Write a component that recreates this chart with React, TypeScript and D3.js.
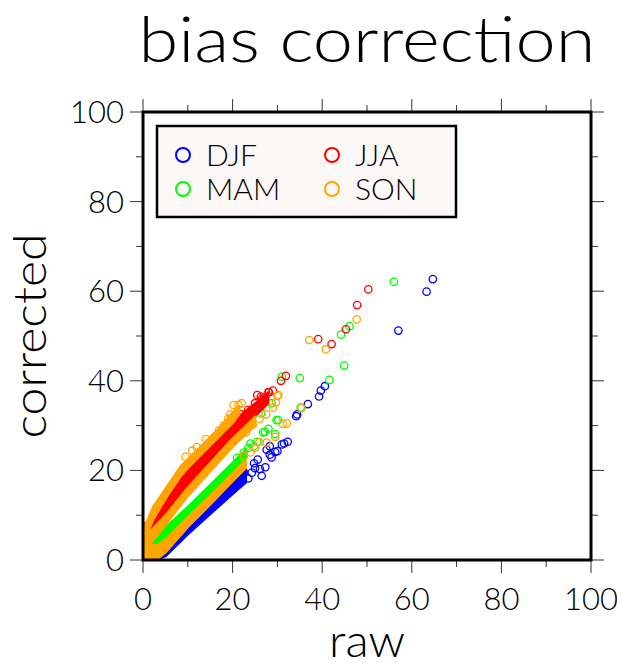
import React from 'react';
import * as d3 from 'd3';

// dense part of each season's cloud: [raw, corrected low, corrected high]
const djfBand: [number, number, number][] = [
  [3, 0, 0.5], [5, 0.8, 2], [10, 5.7, 7.6], [15, 10.2, 12.5], [20, 14.7, 17.7], [23, 17.3, 20.6],
];
const mamBand: [number, number, number][] = [
  [1.5, 2.3, 4], [3, 3.2, 5.3], [5, 4.5, 7.3], [10, 9.3, 11.9], [15, 14.2, 16.8], [20, 19, 21.8], [23, 22, 24.8],
];
const jjaBand: [number, number, number][] = [
  [0, 4, 7.6], [2.3, 6.5, 10], [5.3, 10, 14.5], [8.3, 14, 19], [10.5, 16.5, 21.5], [14, 20.5, 25],
  [17, 24, 28], [20, 27.5, 31], [25, 32, 35], [28, 35, 37.5],
];
const sonBandA: [number, number, number][] = [
  [0, 3, 6.7], [2.3, 9, 12], [5.3, 14, 16.4], [8.3, 18.5, 20.8], [10.5, 21, 23.1], [14, 24.5, 26.5],
  [17, 27.5, 29.5], [20, 30.5, 33], [21.5, 32.5, 34.5],
];
const sonBandB: [number, number, number][] = [
  [0, 1.5, 4.5], [3, 5.3, 8], [5, 7.8, 10], [10, 14.2, 16.2], [15, 19.7, 21.7], [20, 25.2, 27.2], [25, 30, 32],
];
const sonBandC: [number, number, number][] = [
  [0, 0, 3.5], [3, 0, 3.3], [5, 1.6, 4.6], [10, 7.3, 9.6], [15, 12.3, 14.4], [20, 17.5, 19.4], [23, 20.5, 22.4],
];

// individual points [raw, corrected]
const djfPts: [number, number][] = [
  [64.7, 62.7], [63.3, 59.9], [57.0, 51.2], [40.6, 38.8], [39.7, 37.8], [39.3, 36.5], [36.8, 34.8],
  [34.4, 32.5], [34.2, 32.1], [31.5, 26], [30, 24.3], [28.7, 22.9], [27.6, 24.6], [28.3, 25.4], [26.1, 20.3],
  [23.5, 18.2], [24.3, 19.5], [25, 20.5], [26.5, 18.8], [27.3, 20.7], [28.3, 23.5], [29.5, 24.1], [31, 25.8],
  [32.3, 26.4], [24.8, 21.6], [22.5, 19.6], [25.6, 22.4],
];
const mamPts: [number, number][] = [
  [56, 62.1], [46.1, 52.2], [44.2, 50.3], [44.9, 43.4], [41.6, 40.2], [35.2, 34.0], [30.2, 31.25],
  [27.2, 28.6], [29.5, 28.1], [26.4, 32.7], [35, 40.6], [31, 40.9], [28.7, 35], [29.8, 31.2],
  [21, 22.8], [22.5, 24], [24, 26], [25.5, 26.4], [26.8, 28.5], [28, 29.3], [23.5, 25], [24.8, 25.4],
];
const jjaPts: [number, number][] = [
  [50.3, 60.4], [47.8, 56.9], [45.3, 51.5], [39.1, 49.3], [42.1, 48.2], [31.9, 41.1], [30.8, 40],
  [28.1, 37.4], [26.3, 36.5], [22, 32.5], [23.5, 33.5], [25, 35], [26.5, 36], [28, 37.5], [27, 35.5],
  [24.5, 33], [29, 37.8], [25.5, 36.8], [0.3, 7.4],
];
const sonPts: [number, number][] = [
  [47.7, 53.7], [37.1, 49.1], [40.8, 47.0], [30.2, 36.8], [35.4, 33.9], [32.1, 30.5], [27.6, 26.2],
  [29.5, 27.5], [22, 35], [20.2, 34.6], [30, 36.6], [18, 30], [19, 31.5], [21.3, 34.6], [17, 29],
  [16, 27.5], [19.5, 32.5], [12, 25.2], [14, 27], [9.5, 23], [11, 24.4],
  [26, 31.5], [27.5, 32.5], [29, 34], [29.7, 35.2], [23, 28.5], [24.5, 30.2],
  [24, 24], [25, 25], [26, 26.3], [31.2, 30.4], [22.5, 23.2],
];

const seasons = ['DJF', 'MAM', 'JJA', 'SON'];
const colors = ['#0000ff', '#00ff00', '#ff0000', '#ffa500'];

const W = 617;
const H = 664;
const FONT = 'Lato, "DejaVu Sans", sans-serif';

export default function App() {
  const x = d3.scaleLinear().domain([0, 100]).range([143, 591]);
  const y = d3.scaleLinear().domain([0, 100]).range([560, 112]);

  const area = d3.area<[number, number, number]>()
    .x(d => x(d[0]))
    .y0(d => y(d[1]))
    .y1(d => y(d[2]));

  const layers = [
    { bands: [djfBand], pts: djfPts, color: colors[0] },
    { bands: [mamBand], pts: mamPts, color: colors[1] },
    { bands: [jjaBand], pts: jjaPts, color: colors[2] },
    { bands: [sonBandA, sonBandB, sonBandC], pts: sonPts, color: colors[3] },
  ];

  const major = d3.range(0, 101, 20);
  const minor = d3.range(10, 100, 20);
  const [x0, x1] = x.range();
  const [y0, y1] = y.range();

  return (
    <svg width={W} height={H} style={{ position: 'absolute', left: 0, top: 0, background: '#fff' }}
      fontFamily={FONT} fontWeight={300}>
      <defs>
        <clipPath id="plot">
          <rect x={x0} y={y1} width={x1 - x0} height={y0 - y1} />
        </clipPath>
      </defs>

      <text x={367} y={62} fontSize={64} textAnchor="middle" textLength={457}
        lengthAdjust="spacingAndGlyphs">
        bias correction
      </text>

      <g clipPath="url(#plot)">
        {layers.map((l, i) => (
          <g key={i}>
            {l.bands.map((b, j) => (
              <path key={j} d={area(b) ?? ''} fill={l.color} stroke={l.color} strokeWidth={2} strokeLinejoin="round" />
            ))}
            {l.pts.map((p, j) => (
              <circle key={j} cx={x(p[0])} cy={y(p[1])} r={3.7} fill="none" stroke={l.color} strokeWidth={1.3} />
            ))}
          </g>
        ))}
      </g>

      {/* ticks on all four sides, pointing outward */}
      <g stroke="#333" strokeWidth={1}>
        {major.map(v => (
          <g key={'M' + v}>
            <line x1={x(v)} x2={x(v)} y1={y0} y2={y0 + 13} />
            <line x1={x(v)} x2={x(v)} y1={y1} y2={y1 - 13} />
            <line y1={y(v)} y2={y(v)} x1={x0} x2={x0 - 13} />
            <line y1={y(v)} y2={y(v)} x1={x1} x2={x1 + 13} />
          </g>
        ))}
        {minor.map(v => (
          <g key={'m' + v}>
            <line x1={x(v)} x2={x(v)} y1={y0} y2={y0 + 7} />
            <line x1={x(v)} x2={x(v)} y1={y1} y2={y1 - 7} />
            <line y1={y(v)} y2={y(v)} x1={x0} x2={x0 - 7} />
            <line y1={y(v)} y2={y(v)} x1={x1} x2={x1 + 7} />
          </g>
        ))}
      </g>

      <rect x={x0} y={y1} width={x1 - x0} height={y0 - y1} fill="none" stroke="#000" strokeWidth={3} />

      {major.map(v => (
        <text key={'xl' + v} x={x(v)} y={610} fontSize={31} textAnchor="middle">{v}</text>
      ))}
      {major.map(v => (
        <text key={'yl' + v} x={124} y={y(v) + 11} fontSize={31} textAnchor="end">{v}</text>
      ))}

      <text x={367} y={657} fontSize={46} textAnchor="middle" textLength={76} lengthAdjust="spacingAndGlyphs">raw</text>
      <text transform={`translate(46,${(y0 + y1) / 2}) rotate(-90)`} fontSize={46} textAnchor="middle"
        textLength={205} lengthAdjust="spacingAndGlyphs">corrected</text>

      {/* legend: DJF, MAM in first column; JJA, SON in second */}
      <rect x={157} y={126} width={299} height={91} fill="#fcf8f7" stroke="#000" strokeWidth={2.5} />
      {seasons.map((s, i) => {
        const col = s === 'DJF' || s === 'MAM' ? 183 : 332;
        const row = s === 'DJF' || s === 'JJA' ? 155 : 189;
        return (
          <g key={s}>
            <circle cx={col} cy={row} r={7} fill="none" stroke={colors[i]} strokeWidth={2} />
            <text x={col + 23} y={row + 11} fontSize={30}>{s}</text>
          </g>
        );
      })}
    </svg>
  );
}
